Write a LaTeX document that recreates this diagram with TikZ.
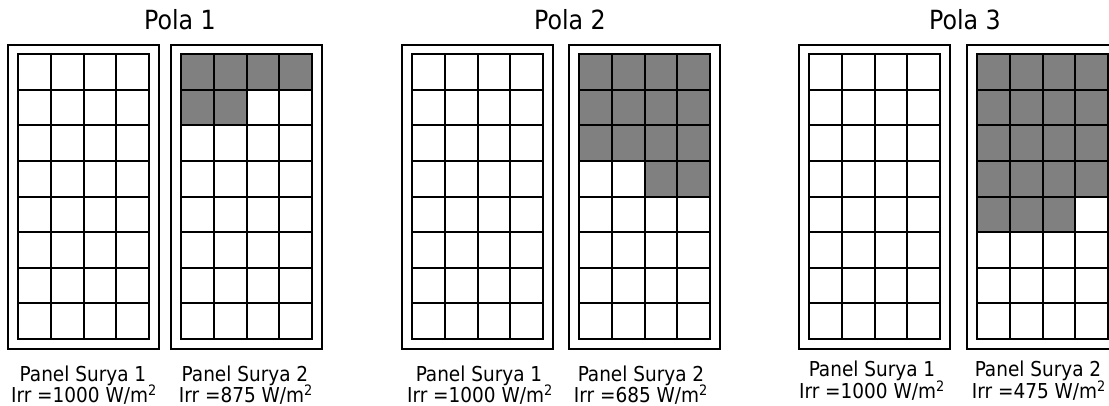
\documentclass[tikz,border=0pt]{standalone}
\usepackage{fontspec}
\setmainfont{DejaVu Sans Condensed}
\tikzset{
  frameline/.style={draw=black,line width=1.1pt},
  gridline/.style={draw=black,line width=1.5pt},
  shadedcell/.style={fill=cellgray},
  titletext/.style={anchor=base,inner sep=0pt,font=\fontsize{19.8pt}{22pt}\selectfont},
  labeltext/.style={anchor=base,inner sep=0pt,font=\fontsize{15.4pt}{17pt}\selectfont}
}
\definecolor{cellgray}{HTML}{808080}
\newcommand{\solarpanel}[1]{%
  \draw[frameline] (#1,45) rectangle ++(151,304);
  \draw[gridline] ({#1+10},54) rectangle ++(131,285);
  \foreach \i in {1,2,3} \draw[gridline] ({#1+10+\i*32.75},54) -- ++(0,285);
  \foreach \j in {1,...,7} \draw[gridline] ({#1+10},{54+\j*35.625}) -- ++(131,0);
}
\newcommand{\graycell}[3]{%
  \fill[shadedcell] ({#1+10+(#2-1)*32.75},{54+(#3-1)*35.625}) rectangle ++(32.75,35.625);
}
\begin{document}
\begin{tikzpicture}[x=0.75pt,y=-0.75pt]
\clip (0,0) rectangle (1109,406);
\fill[white] (0,0) rectangle (1109,406);
% shaded cells
\foreach \c in {1,2,3,4} \graycell{171}{\c}{1};
\foreach \c in {1,2} \graycell{171}{\c}{2};
\foreach \r in {1,2,3} {\foreach \c in {1,2,3,4} {\graycell{569}{\c}{\r}}}
\foreach \c in {3,4} \graycell{569}{\c}{4};
\foreach \r in {1,2,3,4} {\foreach \c in {1,2,3,4} {\graycell{967}{\c}{\r}}}
\foreach \c in {1,2,3} \graycell{967}{\c}{5};
% panels
\solarpanel{8}
\solarpanel{171}
\solarpanel{402}
\solarpanel{569}
\solarpanel{799}
\solarpanel{967}
% titles
\node[titletext] (t1) at (180,30) {Pola 1};
\node[titletext] (t2) at (570,30) {Pola 2};
\node[titletext] (t3) at (965,30) {Pola 3};
% labels
\node[labeltext] (p11a) at (83,381) {Panel Surya 1};
\node[labeltext] (p11b) at (84,402) {Irr =1000 W/m\textsuperscript{2}};
\node[labeltext] (p12a) at (245,381) {Panel Surya 2};
\node[labeltext] (p12b) at (246,402) {Irr =875 W/m\textsuperscript{2}};
\node[labeltext] (p21a) at (479,381) {Panel Surya 1};
\node[labeltext] (p21b) at (480,402) {Irr =1000 W/m\textsuperscript{2}};
\node[labeltext] (p22a) at (641,381) {Panel Surya 2};
\node[labeltext] (p22b) at (641,402) {Irr =685 W/m\textsuperscript{2}};
\node[labeltext] (p31a) at (872,376) {Panel Surya 1};
\node[labeltext] (p31b) at (872,398) {Irr =1000 W/m\textsuperscript{2}};
\node[labeltext] (p32a) at (1038,376) {Panel Surya 2};
\node[labeltext] (p32b) at (1039,398) {Irr =475 W/m\textsuperscript{2}};
\end{tikzpicture}
\end{document}
